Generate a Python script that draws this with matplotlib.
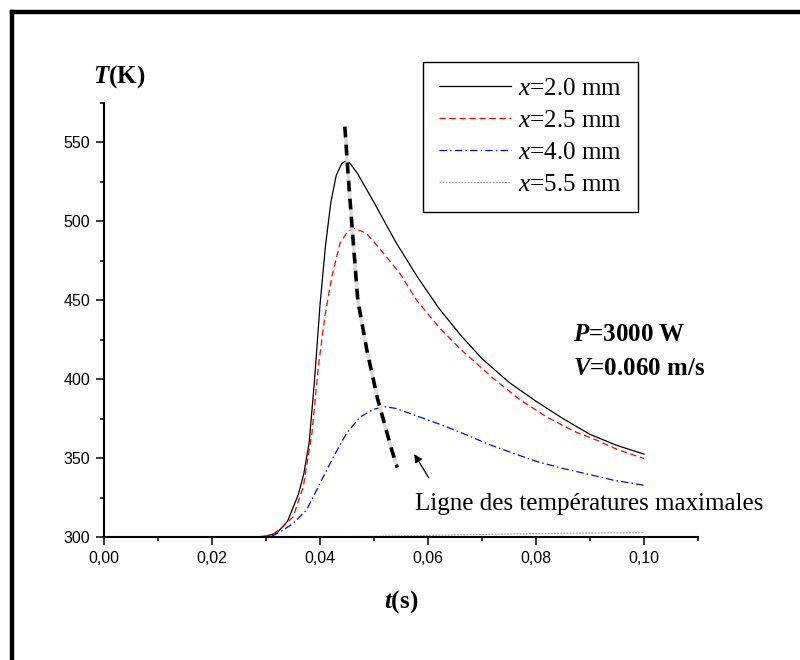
import matplotlib
matplotlib.use("Agg")
import matplotlib.pyplot as plt
from matplotlib.lines import Line2D

plt.rcParams["font.family"] = ["Liberation Sans", "DejaVu Sans"]
plt.rcParams["mathtext.fontset"] = "custom"
plt.rcParams["mathtext.rm"] = "Liberation Serif"
plt.rcParams["mathtext.it"] = "Liberation Serif:italic"
plt.rcParams["mathtext.bf"] = "Liberation Serif:bold"
plt.rcParams["mathtext.bfit"] = "Liberation Serif:italic:bold"

# x = 2.0 mm
t_20 = [0, 0.01, 0.02, 0.028, 0.030, 0.032, 0.034, 0.036, 0.037, 0.038, 0.039, 0.040,
        0.041, 0.042, 0.043, 0.044, 0.0446, 0.0455, 0.047, 0.050, 0.054, 0.058, 0.062,
        0.066, 0.070, 0.075, 0.080, 0.085, 0.090, 0.095, 0.100]
T_20 = [300, 300, 300, 300, 300.5, 302.5, 310, 327, 340, 360, 400, 447,
        484, 512, 529, 536.5, 538, 537, 530, 512, 487, 465, 445,
        428, 413, 398, 386, 375, 365, 358, 352.5]

# x = 2.5 mm
t_25 = [0, 0.01, 0.02, 0.028, 0.030, 0.0314, 0.033, 0.035, 0.0369, 0.0385, 0.0397, 0.0409,
        0.0422, 0.0437, 0.045, 0.0462, 0.0486, 0.0517, 0.0548, 0.0579, 0.062, 0.066,
        0.0721, 0.077, 0.082, 0.087, 0.0912, 0.095, 0.100]
T_25 = [300, 300, 300, 300, 300.5, 302, 306, 312.7, 331.7, 365.6, 408, 439.6,
        465, 486, 493, 495.7, 492.5, 480, 467, 450, 433, 419,
        400.5, 387, 376, 367, 361.4, 355.5, 349.7]

# x = 4.0 mm
t_40 = [0, 0.01, 0.02, 0.030, 0.0314, 0.033, 0.035, 0.0375, 0.040, 0.0425, 0.0449, 0.0474,
        0.050, 0.052, 0.054, 0.0585, 0.0625, 0.0665, 0.071, 0.0758, 0.080, 0.085, 0.090,
        0.0943, 0.100]
T_40 = [300, 300, 300, 300.3, 301, 304, 308.5, 317, 334, 350.8, 365.6, 376,
        381, 382.5, 381.5, 376, 371, 365.6, 359, 353, 348, 343.4, 339.5,
        336, 332.8]

# x = 5.5 mm
t_55 = [0, 0.01, 0.02, 0.03, 0.04, 0.05, 0.06, 0.07, 0.08, 0.09, 0.10]
T_55 = [300, 300, 300, 300, 300.1, 300.4, 301, 301.6, 302.1, 302.5, 302.8]

# line through the maxima
t_max = [0.0446, 0.0452, 0.0459, 0.0470, 0.0487, 0.0507, 0.0533, 0.0543]
T_max = [560, 530, 498, 450, 418, 387, 355, 344]

labels = [r"$x$=2.0 mm", r"$x$=2.5 mm", r"$x$=4.0 mm", r"$x$=5.5 mm"]

fig = plt.figure(figsize=(8, 6.6), dpi=100)
ax = fig.add_axes([0.13, 0.1864, 0.7425, 0.6576])

l1, = ax.plot(t_20, T_20, color="black", lw=0.9)
l2, = ax.plot(t_25, T_25, color="red", lw=0.9, linestyle=(0, (5, 3)))
l3, = ax.plot(t_40, T_40, color="blue", lw=0.9, linestyle=(0, (6, 2.5, 1.2, 2.5)))
l4, = ax.plot(t_55, T_55, color="#a8a8a8", lw=0.9, linestyle=(0, (1.5, 1)))
ax.plot(t_max, T_max, color="black", lw=2.6, linestyle=(0, (3, 2)), gapcolor="#dcdcdc")

ax.set_xlim(0, 0.11)
ax.set_ylim(300, 575)
ax.set_xticks([0, 0.02, 0.04, 0.06, 0.08, 0.10])
ax.set_xticklabels(["0,00", "0,02", "0,04", "0,06", "0,08", "0,10"])
ax.set_xticks([0.01, 0.03, 0.05, 0.07, 0.09, 0.11], minor=True)
ax.set_yticks([300, 350, 400, 450, 500, 550])
ax.set_yticks([325, 375, 425, 475, 525, 575], minor=True)

for s in ["top", "right"]:
    ax.spines[s].set_visible(False)
for s in ["left", "bottom"]:
    ax.spines[s].set_linewidth(1.5)
ax.tick_params(which="major", direction="out", length=6, width=1.1, labelsize=11.5, pad=4)
ax.tick_params(which="minor", direction="out", length=3, width=1.1)

ax.annotate("", xy=(0.0572, 354), xytext=(0.0604, 336),
            arrowprops=dict(arrowstyle="-|>", color="black", lw=0.9, mutation_scale=12))
ax.text(0.0576, 321, "Ligne des températures maximales", family="Liberation Serif",
        fontsize=18, va="center", ha="left")
ax.text(0.0869, 428.5, r"$\mathbfit{P}$=3000 W", family="Liberation Serif",
        fontsize=18, fontweight="bold", va="center", ha="left")
ax.text(0.0869, 407, r"$\mathbfit{V}$=0.060 m/s", family="Liberation Serif",
        fontsize=18, fontweight="bold", va="center", ha="left")

fig.text(93 / 800, 1 - 77 / 660, r"$\mathbfit{T}$(K)", family="Liberation Serif",
         fontsize=18, fontweight="bold", va="center", ha="left")
fig.text(401 / 800, 1 - 602 / 660, r"$\mathbfit{t}$(s)", family="Liberation Serif",
         fontsize=18, fontweight="bold", va="center", ha="center")

leg = fig.legend([l1, l2, l3, l4], labels, loc="upper left",
                 bbox_to_anchor=(423 / 800, 1 - 62 / 660),
                 prop={"family": "Liberation Serif", "size": 18},
                 frameon=True, fancybox=False, framealpha=1, edgecolor="black",
                 handlelength=2.9, handletextpad=0.3, labelspacing=0.38,
                 borderpad=0.62, borderaxespad=0)
leg.get_frame().set_linewidth(1.0)

# outer frame: left and top edges
fig.add_artist(Line2D([12 / 800, 12 / 800], [0, 1 - 12 / 660], color="black", lw=3.2,
                      transform=fig.transFigure, solid_capstyle="projecting"))
fig.add_artist(Line2D([12 / 800, 1], [1 - 12 / 660, 1 - 12 / 660], color="black", lw=3.2,
                      transform=fig.transFigure, solid_capstyle="projecting"))

fig.savefig("out.png", dpi=100)
